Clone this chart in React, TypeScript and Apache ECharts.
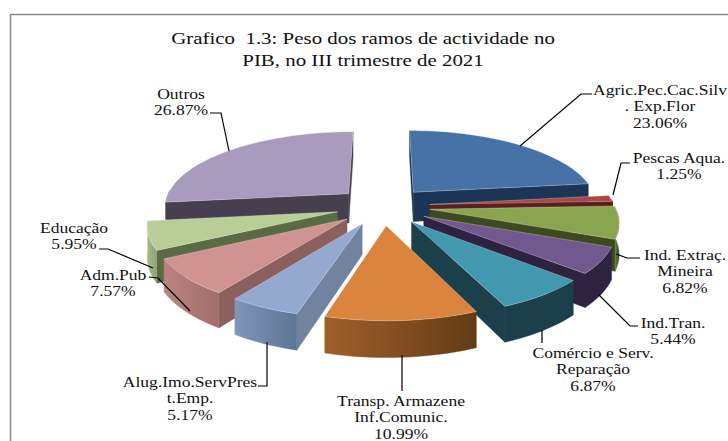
import React, { useEffect, useRef } from "react";
import * as echarts from "echarts";

const titleLines = ["Grafico  1.3: Peso dos ramos de actividade no", "PIB, no III trimestre de 2021"];
const categories = [
  "Agric.Pec.Cac.Silv\n. Exp.Flor",
  "Pescas Aqua.",
  "Ind. Extraç.\nMineira",
  "Ind.Tran.",
  "Comércio e Serv.\nReparação",
  "Transp. Armazene\nInf.Comunic.",
  "Alug.Imo.ServPres\nt.Emp.",
  "Adm.Pub",
  "Educação",
  "Outros",
];
const shares = [23.06, 1.25, 6.82, 5.44, 6.87, 10.99, 5.17, 7.57, 5.95, 26.87];

const topColors = ["#4672a8", "#aa4643", "#89a54e", "#71588f", "#4198af", "#db843d", "#93a9cf", "#d19392", "#b9cd96", "#a99bbd"];
const sideColors = ["#1b3654", "#5a1f1f", "#3c4a20", "#2e2240", "#1b3f4b", "#6a3f18", "#71839f", "#8b5f5e", "#5a6a42", "#453f50"];
const wallLeft = ["#1b3654", "#5a1f1f", "#76893f", "#2e2240", "#1b3f4b", "#a0602a", "#8095b8", "#bb8482", "#a6b988", "#453f50"];
const wallRight = ["#1b3654", "#5a1f1f", "#3c4a20", "#2e2240", "#1b3f4b", "#633b16", "#5f7595", "#a06e6c", "#8fa272", "#453f50"];

// projection of the exploded 3D pie
const CX = 383, CY = 206, RADIUS = 185, EXPLODE = 47, TILT = 0.403, PERSP = 0.0008, DEPTH = 30;
const project = (x: number, z: number, drop = 0) => {
  const s = 1 / (1 - PERSP * z);
  return [CX + x * s, CY + TILT * z * s + drop * s];
};

const total = shares.reduce((a, b) => a + b, 0);
const cumulative: number[] = [];
shares.reduce((acc, v, i) => ((cumulative[i] = acc), acc + v), 0);
const angleOf = (share: number) => (share / total) * Math.PI * 2;
const midAngle = (i: number) => angleOf(cumulative[i] + shares[i] / 2);
const paintOrder = shares.map((_, i) => i).sort((a, b) => -Math.cos(midAngle(a)) - -Math.cos(midAngle(b)));

const area = (pts: number[][]) => {
  let sum = 0;
  pts.forEach((p, i) => {
    const q = pts[(i + 1) % pts.length];
    sum += p[0] * q[1] - q[0] * p[1];
  });
  return sum / 2;
};

function renderSlice(_: any, api: any) {
  const i = api.value(0) as number;
  const start = angleOf(cumulative[i]);
  const end = start + angleOf(api.value(1) as number);
  const mid = (start + end) / 2;
  const ax = EXPLODE * Math.sin(mid);
  const az = -EXPLODE * Math.cos(mid);
  const steps = Math.max(4, Math.ceil(((end - start) * 180) / Math.PI / 2));
  const arc: number[][] = [];
  for (let k = 0; k <= steps; k++) {
    const t = start + ((end - start) * k) / steps;
    arc.push([ax + RADIUS * Math.sin(t), az - RADIUS * Math.cos(t)]);
  }
  const children: any[] = [];
  const poly = (pts: number[][], fill: any, z2: number) =>
    children.push({ type: "polygon", z2, shape: { points: pts }, style: { fill, stroke: fill, lineWidth: 0.4 } });

  // radial walls
  const apex = [ax, az];
  const radial = (p: number[]) => [project(apex[0], apex[1]), project(p[0], p[1]), project(p[0], p[1], DEPTH), project(apex[0], apex[1], DEPTH)];
  const a = radial(arc[0]);
  const b = radial(arc[arc.length - 1]);
  if (area(a) < 0) poly(a, sideColors[i], 1);
  if (area(b) > 0) poly(b, sideColors[i], 1);

  // outer wall, only where it faces the viewer
  const visible: number[][] = arc.filter((_p, k) => {
    const t = start + ((end - start) * k) / steps;
    return Math.cos(t) < 0.08;
  });
  if (visible.length > 1) {
    const upper = visible.map((p) => project(p[0], p[1]));
    const lower = visible.map((p) => project(p[0], p[1], DEPTH)).reverse();
    poly(upper.concat(lower), {
      type: "linear", x: 0, y: 0, x2: 1, y2: 0,
      colorStops: [{ offset: 0, color: wallLeft[i] }, { offset: 1, color: wallRight[i] }],
    }, 2);
  }

  // top face
  const top = [project(apex[0], apex[1])].concat(arc.map((p) => project(p[0], p[1])));
  children.push({ type: "polygon", z2: 3, shape: { points: top }, style: { fill: topColors[i], stroke: "#ffffff", strokeOpacity: 0.35, lineWidth: 0.8 } });
  return { type: "group", children };
}

// label anchor (centre x, y of the first text line) and leader polyline
const labelAnchors = [[660, 90], [679, 158], [685, 255], [673, 323], [593, 353], [401, 401], [190, 382], [113, 275], [74, 228], [181, 94]];
const leaders = [
  [[520, 146], [581, 94], [592, 94]],
  [[613, 195], [621, 163], [630, 163]],
  [[616, 254], [627, 258], [640, 258]],
  [[599, 295], [630, 326], [638, 326]],
  [[542, 330], [542, 343]],
  [[402, 355], [402, 391]],
  [[267, 342], [267, 386], [258, 386]],
  [[190, 311], [158, 278], [149, 277]],
  [[153, 268], [108, 249], [99, 249]],
  [[229, 151], [221, 113], [210, 113]],
];
const TEXT_FONT = '14.5px "Liberation Serif"';
const TEXT_STRETCH = 1.21;

function renderLabel(_: any, api: any) {
  const i = api.value(0) as number;
  const [x, y] = labelAnchors[i];
  return {
    type: "group",
    children: [
      { type: "polyline", shape: { points: leaders[i] }, style: { fill: "none", stroke: "#000", lineWidth: 1.2 } },
      {
        type: "text", x, y: y - 8, scaleX: TEXT_STRETCH,
        style: {
          text: `${categories[i]}\n${(api.value(1) as number).toFixed(2)}%`,
          font: TEXT_FONT, lineHeight: 16.3, align: "center", verticalAlign: "top", fill: "#111",
        },
      },
    ],
  };
}

export default function App() {
  const ref = useRef<HTMLDivElement>(null);
  useEffect(() => {
    document.body.style.margin = "0";
    const chart = echarts.init(ref.current!, undefined, { renderer: "svg" });
    chart.setOption({
      animation: false,
      backgroundColor: "#ffffff",
      graphic: [
        { type: "rect", shape: { x: 10.5, y: 14.5, width: 730, height: 440 }, style: { fill: "none", stroke: "#8c8c8c", lineWidth: 1.5 } },
        ...titleLines.map((t, i) => ({
          type: "text", x: 363, y: 38 + i * 22, scaleX: 1.23,
          style: { text: t, font: '17px "Liberation Serif"', align: "center", verticalAlign: "middle", fill: "#111" },
        })),
      ],
      series: [
        {
          type: "custom", coordinateSystem: "none", silent: true, renderItem: renderSlice,
          data: paintOrder.map((i) => [i, shares[i]]),
        },
        {
          type: "custom", coordinateSystem: "none", silent: true, renderItem: renderLabel, z: 5,
          data: shares.map((v, i) => [i, v]),
        },
      ],
    });
    return () => chart.dispose();
  }, []);
  return <div ref={ref} style={{ width: 728, height: 441 }} />;
}
